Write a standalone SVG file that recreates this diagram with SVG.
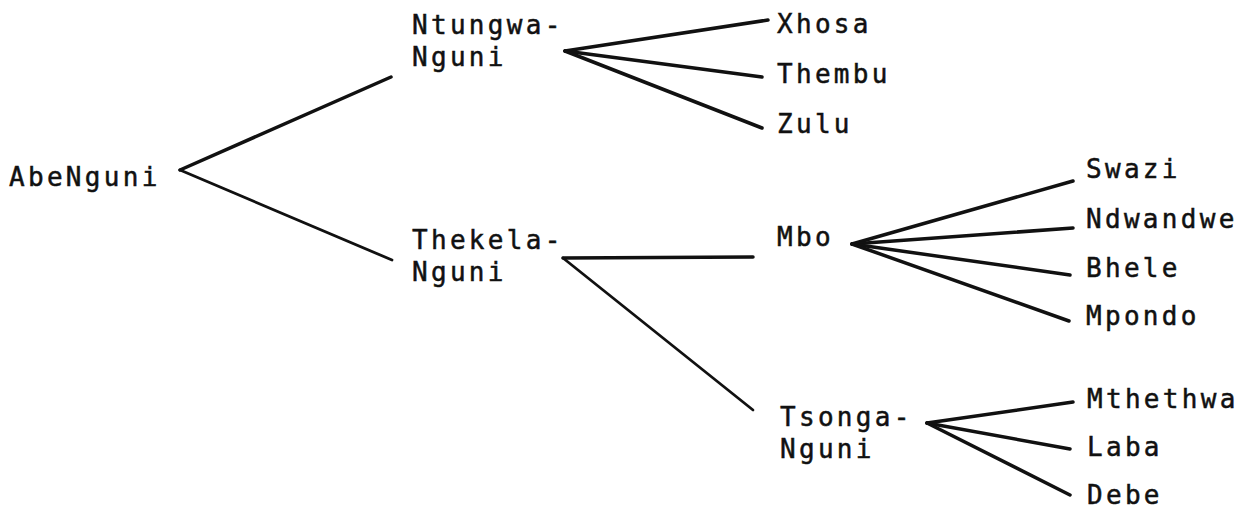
<svg xmlns="http://www.w3.org/2000/svg" width="1253" height="509" viewBox="0 0 1253 509">
  <style>
    .lbl { font-family: "DejaVu Sans Mono", "Liberation Mono", monospace; font-size: 26px; letter-spacing: 3.3px; fill: #111; stroke: #111; stroke-width: 0.5px; }
    .edge { stroke: #111; stroke-width: 3.5; stroke-linecap: round; fill: none; }
    .thin { stroke-width: 2.8; }
  </style>
  <rect width="1253" height="509" fill="#fff"/>

  <!-- branches of the family tree -->
  <g id="connectors">
    <line class="edge" x1="180" y1="170" x2="391" y2="77"/>
    <line class="edge thin" x1="180" y1="170" x2="392" y2="260"/>

    <line class="edge" x1="565" y1="51" x2="768" y2="20"/>
    <line class="edge" x1="565" y1="51" x2="762" y2="77"/>
    <line class="edge" x1="565" y1="51" x2="762" y2="128"/>

    <line class="edge" x1="563" y1="258" x2="753" y2="257"/>
    <line class="edge thin" x1="563" y1="258" x2="753" y2="410"/>

    <line class="edge" x1="852" y1="244" x2="1073" y2="181"/>
    <line class="edge" x1="852" y1="244" x2="1073" y2="228"/>
    <line class="edge" x1="852" y1="244" x2="1070" y2="275"/>
    <line class="edge" x1="852" y1="244" x2="1069" y2="321"/>

    <line class="edge" x1="927" y1="423" x2="1073" y2="402"/>
    <line class="edge" x1="927" y1="423" x2="1070" y2="449"/>
    <line class="edge" x1="927" y1="423" x2="1070" y2="495"/>
  </g>

  <g id="abenguni"><text class="lbl" x="9" y="186">AbeNguni</text></g>

  <g id="ntungwa-nguni">
    <text class="lbl" x="412" y="34">Ntungwa-</text>
    <text class="lbl" x="412" y="66">Nguni</text>
  </g>
  <g id="thekela-nguni">
    <text class="lbl" x="412" y="249">Thekela-</text>
    <text class="lbl" x="412" y="281">Nguni</text>
  </g>

  <g id="xhosa"><text class="lbl" x="777" y="33">Xhosa</text></g>
  <g id="thembu"><text class="lbl" x="777" y="83">Thembu</text></g>
  <g id="zulu"><text class="lbl" x="777" y="133">Zulu</text></g>

  <g id="mbo"><text class="lbl" x="777" y="246">Mbo</text></g>
  <g id="tsonga-nguni">
    <text class="lbl" x="780" y="426">Tsonga-</text>
    <text class="lbl" x="780" y="458">Nguni</text>
  </g>

  <g id="swazi"><text class="lbl" x="1086" y="178">Swazi</text></g>
  <g id="ndwandwe"><text class="lbl" x="1086" y="228">Ndwandwe</text></g>
  <g id="bhele"><text class="lbl" x="1086" y="277">Bhele</text></g>
  <g id="mpondo"><text class="lbl" x="1086" y="325">Mpondo</text></g>

  <g id="mthethwa"><text class="lbl" x="1087" y="408">Mthethwa</text></g>
  <g id="laba"><text class="lbl" x="1087" y="456">Laba</text></g>
  <g id="debe"><text class="lbl" x="1087" y="504">Debe</text></g>
</svg>
